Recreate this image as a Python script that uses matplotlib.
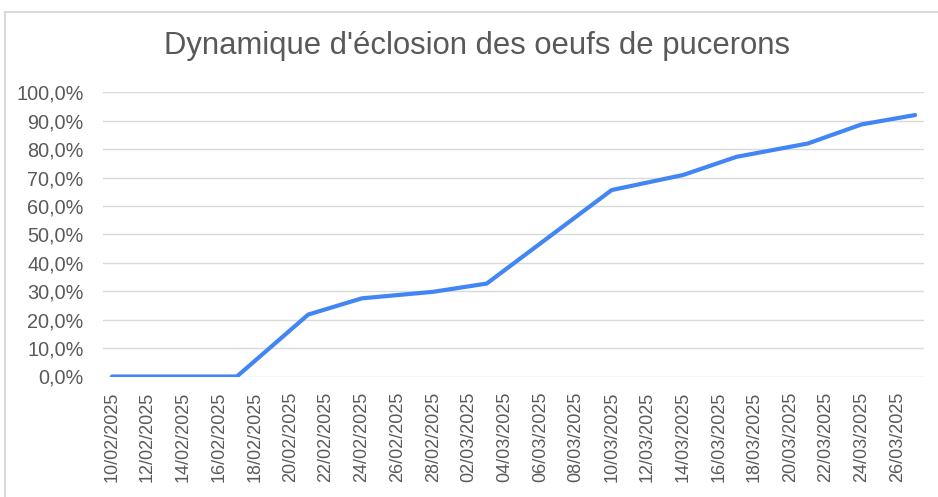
import matplotlib
matplotlib.use("Agg")
import matplotlib.pyplot as plt
import matplotlib.dates as mdates
from matplotlib.ticker import FuncFormatter, MultipleLocator
from matplotlib.lines import Line2D
import datetime as dt

plt.rcParams['font.family'] = ['Liberation Sans', 'DejaVu Sans']

title = "Dynamique d'éclosion des oeufs de pucerons"
dates = ["10/02/2025", "17/02/2025", "21/02/2025", "24/02/2025", "28/02/2025",
         "03/03/2025", "07/03/2025", "10/03/2025", "14/03/2025", "17/03/2025",
         "21/03/2025", "24/03/2025", "27/03/2025"]
values = [0.0, 0.0, 21.8, 27.5, 29.8, 32.7, 51.5, 65.6, 70.9, 77.3, 82.0, 88.7, 92.0]

x = [dt.datetime.strptime(d, "%d/%m/%Y") for d in dates]

fig = plt.figure(figsize=(9.38, 4.97), dpi=100)
ax = fig.add_axes([103/938, 1-376.5/497, (924-103)/938, (376.5-92.3)/497])

text_col = "#595959"
grid_col = "#D9D9D9"

ax.plot(x, values, color="#4285F4", linewidth=3.0, solid_capstyle='round', solid_joinstyle='round', zorder=3)

start = dt.datetime(2025, 2, 10)
ax.set_xlim(start - dt.timedelta(hours=12), dt.datetime(2025, 3, 27, 12))
ax.set_ylim(0, 100)

ax.yaxis.set_major_locator(MultipleLocator(10))
ax.yaxis.set_major_formatter(FuncFormatter(lambda v, p: f"{v:.1f}%".replace(".", ",")))
ticks = [start + dt.timedelta(days=2*i) for i in range(23)]
ax.set_xticks(ticks)
ax.xaxis.set_major_formatter(mdates.DateFormatter("%d/%m/%Y"))
for lbl in ax.get_xticklabels():
    lbl.set_rotation(90)

ax.tick_params(axis='both', length=0, colors=text_col)
ax.tick_params(axis='y', labelsize=14.3, pad=14)
ax.tick_params(axis='x', labelsize=13, pad=11)
ax.grid(axis='y', color=grid_col, linewidth=1.0)
ax.set_axisbelow(True)
for s in ax.spines.values():
    s.set_visible(False)

fig.text(477/938, 1-46/497, title, ha='center', va='center', fontsize=22.3, color=text_col)

fig.add_artist(Line2D([5/938, 5/938], [0, 1-11.5/497], transform=fig.transFigure, color="#D9D9D9", linewidth=1.5))
fig.add_artist(Line2D([5/938, 1], [1-11.5/497, 1-11.5/497], transform=fig.transFigure, color="#D9D9D9", linewidth=1.5))

fig.savefig("out.png", dpi=100)
